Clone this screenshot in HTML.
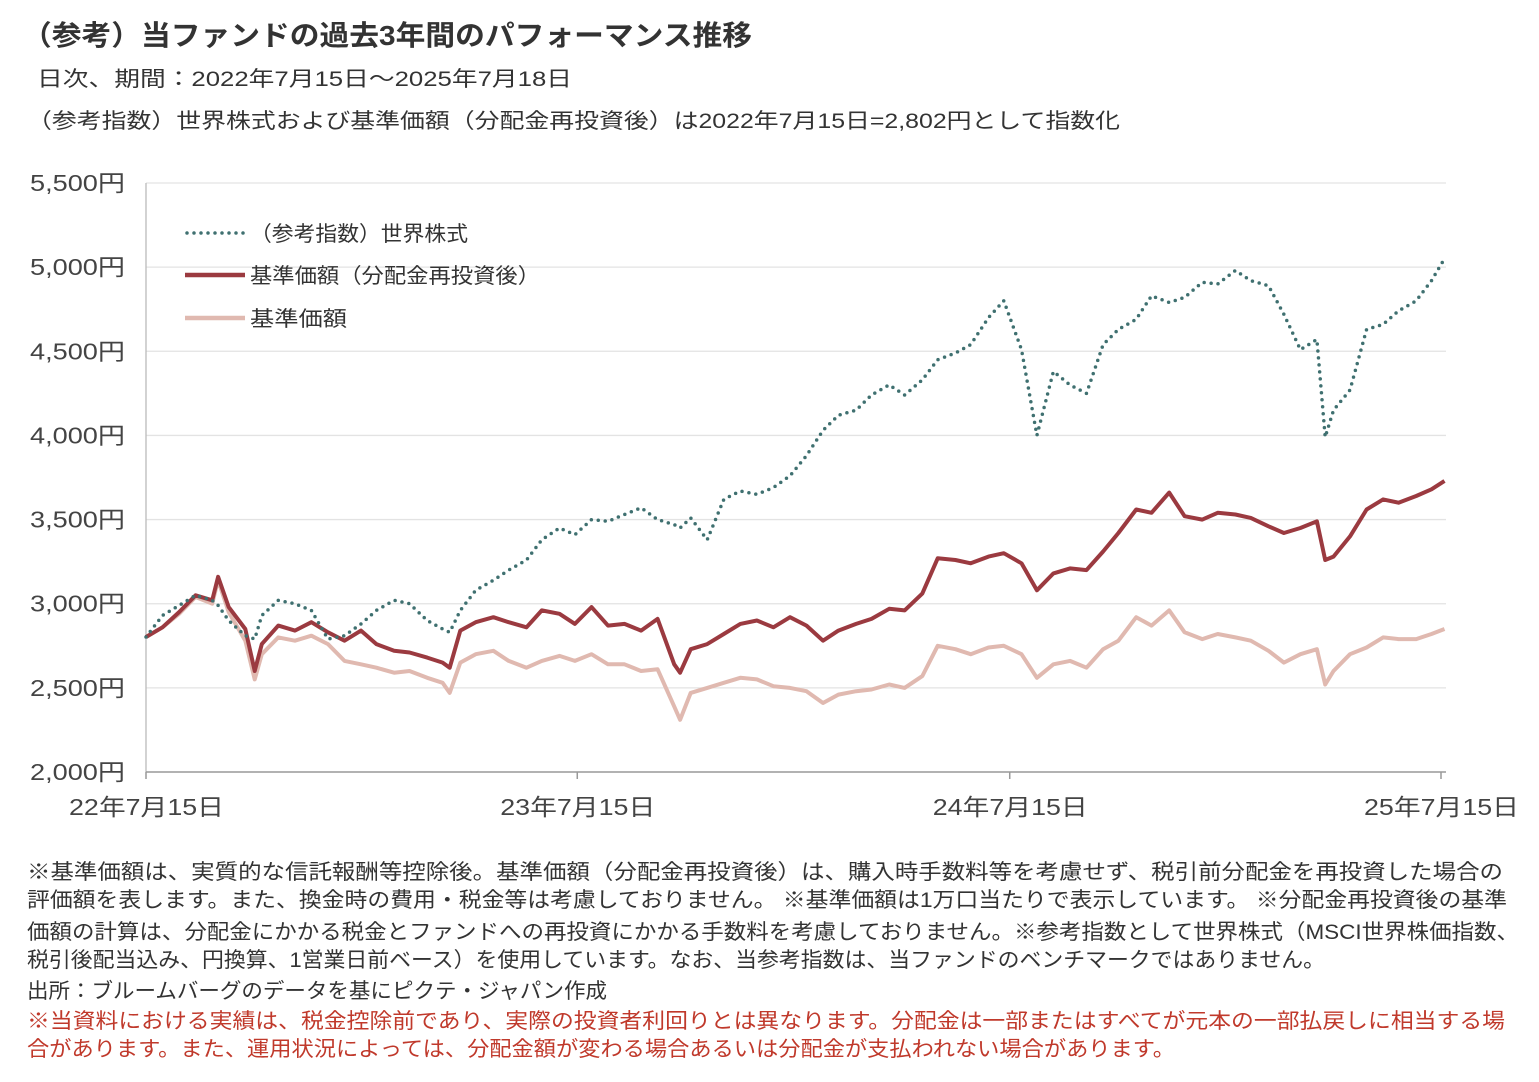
<!DOCTYPE html>
<html><head><meta charset="utf-8"><style>
html,body{margin:0;padding:0;background:#fff;}
svg{display:block;font-family:"Liberation Sans","Noto Sans CJK JP",sans-serif;}
</style></head><body>
<svg id="chart" width="1539" height="1082" viewBox="0 0 1539 1082" xmlns="http://www.w3.org/2000/svg">
<text x="22" y="45" font-size="28" font-weight="bold" fill="#333" textLength="730" lengthAdjust="spacingAndGlyphs">（参考）当ファンドの過去3年間のパフォーマンス推移</text>
<text x="37" y="86" font-size="21" fill="#333" textLength="535" lengthAdjust="spacingAndGlyphs">日次、期間：2022年7月15日～2025年7月18日</text>
<text x="27" y="128" font-size="21" fill="#333" textLength="1093" lengthAdjust="spacingAndGlyphs">（参考指数）世界株式および基準価額（分配金再投資後）は2022年7月15日=2,802円として指数化</text>
<g id="grid"></g>
<g id="axes"></g>
<g id="series"></g>
<g>
  <line x1="187" y1="233" x2="244" y2="233" stroke="#3f7070" stroke-width="3.5" stroke-dasharray="0 7" stroke-linecap="round"/>
  <text x="250" y="241" font-size="21" fill="#333" textLength="218" lengthAdjust="spacingAndGlyphs">（参考指数）世界株式</text>
  <line x1="185" y1="275" x2="245" y2="275" stroke="#9b3a40" stroke-width="4.5"/>
  <text x="250" y="283" font-size="21" fill="#333" textLength="290" lengthAdjust="spacingAndGlyphs">基準価額（分配金再投資後）</text>
  <line x1="185" y1="318" x2="245" y2="318" stroke="#e0b9b0" stroke-width="4.5"/>
  <text x="250" y="326" font-size="21" fill="#333" textLength="97" lengthAdjust="spacingAndGlyphs">基準価額</text>
</g>
<g font-size="21" fill="#333">
  <text x="27" y="879" textLength="1476" lengthAdjust="spacingAndGlyphs">※基準価額は、実質的な信託報酬等控除後。基準価額（分配金再投資後）は、購入時手数料等を考慮せず、税引前分配金を再投資した場合の</text>
  <text x="27" y="907" textLength="1480" lengthAdjust="spacingAndGlyphs">評価額を表します。また、換金時の費用・税金等は考慮しておりません。 ※基準価額は1万口当たりで表示しています。 ※分配金再投資後の基準</text>
  <text x="27" y="939" textLength="1492" lengthAdjust="spacingAndGlyphs">価額の計算は、分配金にかかる税金とファンドへの再投資にかかる手数料を考慮しておりません。※参考指数として世界株式（MSCI世界株価指数、</text>
  <text x="27" y="967" textLength="1298" lengthAdjust="spacingAndGlyphs">税引後配当込み、円換算、1営業日前ベース）を使用しています。なお、当参考指数は、当ファンドのベンチマークではありません。</text>
  <text x="27" y="998" textLength="580" lengthAdjust="spacingAndGlyphs">出所：ブルームバーグのデータを基にピクテ・ジャパン作成</text>
  <text x="27" y="1028" fill="#c0392b" textLength="1478" lengthAdjust="spacingAndGlyphs">※当資料における実績は、税金控除前であり、実際の投資者利回りとは異なります。分配金は一部またはすべてが元本の一部払戻しに相当する場</text>
  <text x="27" y="1056" fill="#c0392b" textLength="1148" lengthAdjust="spacingAndGlyphs">合があります。また、運用状況によっては、分配金額が変わる場合あるいは分配金が支払われない場合があります。</text>
</g>
</svg>
<script>
const days = [0,14,28,42,56,61,70,84,92,98,112,126,140,154,168,182,195,210,223,238,251,257,266,279,294,307,322,335,350,363,377,391,405,419,433,447,452,461,475,489,503,517,531,545,559,573,586,601,614,629,642,657,670,685,698,713,726,741,754,768,782,796,810,823,838,851,866,879,894,907,922,935,950,963,977,991,998,1005,1019,1033,1047,1060,1075,1088,1099];
const worldStock = [2802,2930,2990,3050,3020,2990,2900,2810,2790,2930,3020,3000,2960,2790,2810,2880,2960,3020,3000,2900,2850,2830,2960,3080,3140,3200,3260,3380,3450,3410,3500,3490,3530,3570,3500,3470,3450,3510,3380,3620,3670,3650,3690,3760,3880,4030,4120,4150,4240,4300,4240,4330,4450,4490,4540,4700,4800,4510,4000,4380,4300,4250,4540,4630,4690,4830,4790,4820,4910,4900,4980,4920,4890,4720,4510,4570,3990,4150,4270,4630,4660,4740,4800,4920,5050];
const navReinvested = [2802,2860,2950,3050,3020,3160,2980,2850,2600,2760,2870,2840,2890,2830,2780,2840,2760,2720,2710,2680,2650,2620,2840,2890,2920,2890,2860,2960,2940,2880,2980,2870,2880,2840,2910,2640,2590,2730,2760,2820,2880,2900,2860,2920,2870,2780,2840,2880,2910,2970,2960,3060,3270,3260,3240,3280,3300,3240,3080,3180,3210,3200,3310,3420,3560,3540,3660,3520,3500,3540,3530,3510,3460,3420,3450,3490,3260,3280,3400,3560,3620,3600,3640,3680,3730];
const nav = [2802,2860,2940,3040,3000,3140,2950,2780,2550,2700,2800,2780,2810,2760,2660,2640,2620,2590,2600,2560,2530,2470,2650,2700,2720,2660,2620,2660,2690,2660,2700,2640,2640,2600,2610,2390,2310,2470,2500,2530,2560,2550,2510,2500,2480,2410,2460,2480,2490,2520,2500,2570,2750,2730,2700,2740,2750,2700,2560,2640,2660,2620,2730,2780,2920,2870,2960,2830,2790,2820,2800,2780,2720,2650,2700,2730,2520,2600,2700,2740,2800,2790,2790,2820,2850];
const yTicks = [2000,2500,3000,3500,4000,4500,5000,5500];
const yTickLabels = ["2,000円","2,500円","3,000円","3,500円","4,000円","4,500円","5,000円","5,500円"];
const xTickDays = [0,365,731,1096];
const xTickLabels = ["22年7月15日","23年7月15日","24年7月15日","25年7月15日"];

const NS = "http://www.w3.org/2000/svg";
const X0 = 146, X1 = 1441, Y0 = 772, Y1 = 183;
function xScale(d){ return X0 + (d/1096)*(X1-X0); }
function yScale(v){ return Y0 - (v-2000)/(5500-2000)*(Y0-Y1); }
function mk(tag, attrs, parent){ const e=document.createElementNS(NS,tag); for(const k in attrs) e.setAttribute(k,attrs[k]); parent.appendChild(e); return e; }

const grid=document.getElementById('grid'), axes=document.getElementById('axes'), series=document.getElementById('series');
yTicks.forEach((v,i)=>{
  const y=yScale(v);
  if(v>2000){
    const l=mk('line',{x1:X0,x2:1446,y1:y,y2:y,stroke:'#e3e3e3','stroke-width':1.3},grid);
    
    
  }
  const t=mk('text',{x:30,y:y+8,'font-size':23,fill:'#444',textLength:95,lengthAdjust:'spacingAndGlyphs'},axes);
  t.textContent=yTickLabels[i];
  
  
});
const ya=mk('line',{x1:X0,x2:X0,y1:Y1,y2:Y0,stroke:'#bbb','stroke-width':1.3},axes);


const xa=mk('line',{x1:X0,x2:1446,y1:Y0,y2:Y0,stroke:'#999','stroke-width':1.5},axes);


xTickDays.forEach((d,i)=>{
  const x=xScale(d);
  const tk=mk('line',{x1:x,x2:x,y1:Y0,y2:Y0+7,stroke:'#999','stroke-width':1.5},axes);
  
  
  const t=mk('text',{x:x-77,y:815,'font-size':23,fill:'#444',textLength:155,lengthAdjust:'spacingAndGlyphs'},axes);
  t.textContent=xTickLabels[i];
  
  
});
function pathOf(vals){ return vals.map((v,i)=>(i?'L':'M')+xScale(days[i]).toFixed(1)+' '+yScale(v).toFixed(1)).join(' '); }
const pNav=mk('path',{d:pathOf(nav),fill:'none',stroke:'#e0b9b0','stroke-width':4,'stroke-linejoin':'round'},series);


const pRe=mk('path',{d:pathOf(navReinvested),fill:'none',stroke:'#9b3a40','stroke-width':4,'stroke-linejoin':'round'},series);


const pW=mk('path',{d:pathOf(worldStock),fill:'none',stroke:'#3f7070','stroke-width':3.5,'stroke-dasharray':'0 7','stroke-linecap':'round'},series);


</script>
</body></html>
